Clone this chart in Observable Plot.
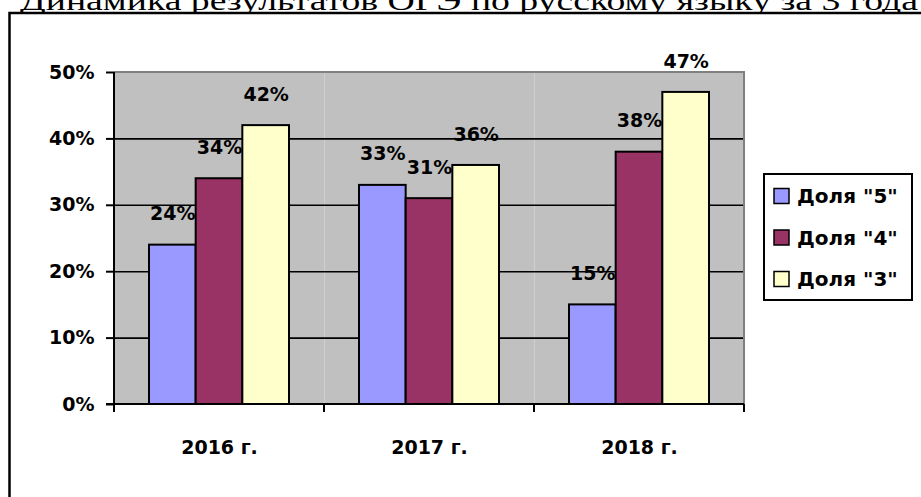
<!DOCTYPE html>
<html>
<head>
<meta charset="utf-8">
<script src="https://cdn.jsdelivr.net/npm/d3@7"></script>
<script src="https://cdn.jsdelivr.net/npm/@observablehq/plot@0.6"></script>
<style>
  html, body { margin: 0; padding: 0; background: white; }
  #chart svg [aria-label="y-axis tick"] path { stroke-width: 2px; }
</style>
</head>
<body>
<div id="chart"></div>
<script>
const title = "Динамика результатов ОГЭ по русскому языку за 3 года";
const years = ["2016 г.", "2017 г.", "2018 г."];
const series = ['Доля "5"', 'Доля "4"', 'Доля "3"'];
const share5 = [24, 33, 15];
const share4 = [34, 31, 38];
const share3 = [42, 36, 47];
const colors = ["#9999FF", "#993366", "#FFFFCC"];
const yTicks = [0, 10, 20, 30, 40, 50];

const seriesValues = [share5, share4, share3];
const data = [];
years.forEach((year, i) => {
  series.forEach((s, j) => data.push({year, series: s, value: seriesValues[j][i]}));
});

const font = "'DejaVu Sans', sans-serif";

const chart = Plot.plot({
  width: 921,
  height: 497,
  marginLeft: 114,
  marginRight: 177,
  marginTop: 72,
  marginBottom: 93,
  style: {fontFamily: font, fontSize: "19px", fontWeight: "bold", color: "black", background: "white"},
  fx: {domain: years, padding: 0, axis: "bottom", tickSize: 0, tickPadding: 36, label: null},
  x: {domain: series, paddingInner: 0, paddingOuter: 0.75, axis: null, round: false},
  y: {domain: [0, 50], ticks: yTicks, tickFormat: d => d + "%", tickSize: 8, tickPadding: 12, label: null},
  color: {domain: series, range: colors},
  marks: [
    Plot.frame({fill: "#C0C0C0", stroke: "none"}),
    Plot.ruleY(yTicks.filter(d => d > 0 && d < 50), {stroke: "black", strokeWidth: 1.6}),
    Plot.barY(data, {fx: "year", x: "series", y: "value", fill: "series", stroke: "black", strokeWidth: 2}),
    Plot.text(data, {fx: "year", x: "series", y: "value", text: d => d.value + "%", dy: -31, fill: "black"})
  ]
});

document.getElementById("chart").appendChild(chart);

const svg = d3.select(chart);
const fx = chart.scale("fx");
const y = chart.scale("y");
const x0 = fx.range[0], x1 = fx.range[1];
const yTop = y.apply(50), yBot = y.apply(0);

// outer chart frame (white, black border) and partially hidden title behind it
svg.insert("rect", ":first-child")
  .attr("x", 9.5).attr("y", 13).attr("width", 1000).attr("height", 600)
  .attr("fill", "white").attr("stroke", "black").attr("stroke-width", 2.5);
svg.insert("text", ":first-child")
  .attr("x", 20).attr("y", 10)
  .attr("text-anchor", "start")
  .attr("textLength", 898).attr("lengthAdjust", "spacingAndGlyphs")
  .style("font-family", "'Liberation Serif', 'Times New Roman', serif")
  .style("font-size", "28px").style("font-weight", "normal")
  .attr("fill", "black")
  .text(title);

const g = svg.append("g");
// plot area border (gray top and right)
g.append("path")
  .attr("d", `M${x0},${yTop}H${x1}V${yBot}`)
  .attr("fill", "none").attr("stroke", "#808080").attr("stroke-width", 2);
// axis lines
g.append("line").attr("x1", x0).attr("x2", x0).attr("y1", yTop).attr("y2", yBot + 8)
  .attr("stroke", "black").attr("stroke-width", 2);
g.append("line").attr("x1", x0 - 8).attr("x2", x1).attr("y1", yBot).attr("y2", yBot)
  .attr("stroke", "black").attr("stroke-width", 2);
// category boundary ticks
const bounds = years.map(d => fx.apply(d)).concat([fx.apply(years[years.length - 1]) + fx.bandwidth]);
g.selectAll("line.bt").data(bounds).join("line").attr("class", "bt")
  .attr("x1", d => d).attr("x2", d => d).attr("y1", yBot).attr("y2", yBot + 8)
  .attr("stroke", "black").attr("stroke-width", 2);

// legend
const color = chart.scale("color");
const lg = svg.append("g");
lg.append("rect").attr("x", 764).attr("y", 174).attr("width", 148).attr("height", 126)
  .attr("fill", "white").attr("stroke", "black").attr("stroke-width", 2);
series.forEach((s, i) => {
  const cy = 196 + i * 41.5;
  lg.append("rect").attr("x", 774).attr("y", cy - 7.5).attr("width", 15).attr("height", 15)
    .attr("fill", color.apply(s)).attr("stroke", "black").attr("stroke-width", 1.5);
  lg.append("text").attr("x", 797).attr("y", cy).attr("dy", "0.36em")
    .attr("text-anchor", "start").style("font-size", "20px")
    .attr("fill", "black").text(s);
});
</script>
</body>
</html>
